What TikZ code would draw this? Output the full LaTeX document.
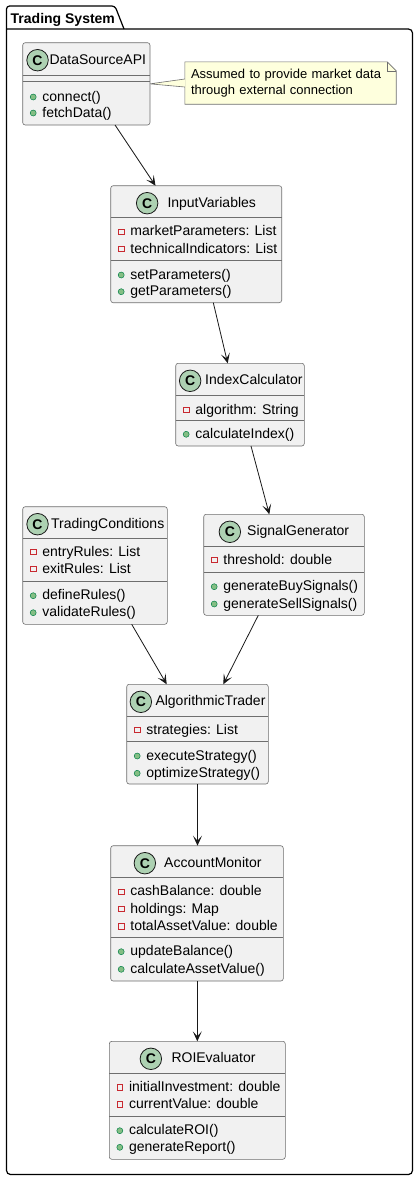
\documentclass[tikz,border=0pt]{standalone}
\usepackage{fontspec}
\setmainfont{Liberation Sans}
\usetikzlibrary{positioning,arrows.meta,backgrounds}

\definecolor{classfill}{HTML}{F1F1F1}
\definecolor{classedge}{HTML}{6E6E6E}
\definecolor{linkcol}{HTML}{181818}
\definecolor{iconfill}{HTML}{ADD1B2}
\definecolor{privred}{HTML}{C82930}
\definecolor{pubfill}{HTML}{84BE84}
\definecolor{pubedge}{HTML}{038048}
\definecolor{notefill}{HTML}{FEFFDD}

\tikzset{
  classbox/.style={draw=classedge, line width=0.6pt, fill=classfill, rounded corners=2.5pt, inner sep=0pt, outer sep=0pt},
  classline/.style={draw=classedge, line width=0.6pt},
  classname/.style={inner sep=0pt, anchor=west, font=\fontsize{14}{16}\selectfont, text height=10pt, text depth=2pt},
  classicon/.style={circle, draw=linkcol, line width=0.8pt, fill=iconfill, minimum size=21.5pt, inner sep=0pt, font=\fontsize{14}{16}\selectfont\bfseries},
  member/.style={inner sep=0pt, anchor=west, font=\fontsize{14}{16}\selectfont, text height=10pt, text depth=2pt},
  privmark/.style={draw=privred, line width=0.8pt, minimum size=5.5pt, inner sep=0pt},
  pubmark/.style={circle, draw=pubedge, line width=0.5pt, fill=pubfill, minimum size=6pt, inner sep=0pt},
  assoc/.style={-{Stealth[length=10pt,width=9pt,inset=5pt]}, draw=linkcol, line width=0.8pt},
  pkgline/.style={draw=black, line width=1.2pt},
  pkgname/.style={inner sep=0pt, anchor=west, font=\fontsize{14}{16}\selectfont\bfseries, text height=10pt, text depth=2pt},
  notetext/.style={inner xsep=6pt, inner ysep=0pt, text width=199pt, minimum height=42pt, align=left, font=\fontsize{13}{16.6}\selectfont},
  noteline/.style={draw=classedge, line width=0.6pt}
}

% class box: name, left, top, right, bottom, name x, icon gap, title
\newcommand{\umlclass}[8]{%
  \node[classbox, minimum width={#4pt-#2pt}, minimum height={#5pt-#3pt}] (#1) at ({(#2+#4)/2},{(#3+#5)/2}) {};
  \node[classname] (#1-name) at (#6,#3+17.5) {#8};
  \node[classicon, left=#7pt of #1-name] (#1-icon) {C};
}
\newcommand{\umlsep}[2]{\draw[classline] (#1.west |- 0,#2) -- (#1.east |- 0,#2);}
\newcommand{\umlattr}[4]{%
  \node[privmark, xshift=10.5pt] (#1-#2-mark) at (#1.west |- 0,#3) {};
  \node[member, xshift=19.5pt] (#1-#2) at (#1.west |- 0,#3) {#4};
}
\newcommand{\umlop}[4]{%
  \node[pubmark, xshift=10.5pt] (#1-#2-mark) at (#1.west |- 0,#3) {};
  \node[member, xshift=19.5pt] (#1-#2) at (#1.west |- 0,#3) {#4};
}

\begin{document}
\begin{tikzpicture}[x=1pt,y=-1pt]
  \useasboundingbox (0,0) rectangle (419,1181);

  % package frame
  \draw[pkgline, rounded corners=3pt] (6.5,29) -- (6.5,6) -- (115,6) -- (124,29);
  \draw[pkgline, rounded corners=4pt] (6.5,29) -- (6.5,1174.5) -- (412.5,1174.5) -- (412.5,29) -- (6.5,29);
  \node[pkgname] (pkg-name) at (10.5,19) {Trading System};

  \umlclass{dsapi}{22.7}{42.7}{150}{125}{49.3}{0.6}{DataSourceAPI}
  \umlsep{dsapi}{75} \umlsep{dsapi}{81}
  \umlop{dsapi}{o1}{97}{connect()}
  \umlop{dsapi}{o2}{113}{fetchData()}

  \umlclass{inputvars}{110.7}{185.7}{281.7}{302.7}{167.3}{9}{InputVariables}
  \umlsep{inputvars}{217.3} \umlsep{inputvars}{260}
  \umlattr{inputvars}{a1}{231.7}{marketParameters: List}
  \umlattr{inputvars}{a2}{249}{technicalIndicators: List}
  \umlop{inputvars}{o1}{275}{setParameters()}
  \umlop{inputvars}{o2}{291.7}{getParameters()}

  \umlclass{indexcalc}{175.7}{363.3}{304.3}{446}{205}{3.7}{IndexCalculator}
  \umlsep{indexcalc}{395.7} \umlsep{indexcalc}{420.7}
  \umlattr{indexcalc}{a1}{410}{algorithm: String}
  \umlop{indexcalc}{o1}{434.3}{calculateIndex()}

  \umlclass{tradecond}{22.7}{506.7}{167.3}{624.3}{51}{2.3}{TradingConditions}
  \umlsep{tradecond}{538.7} \umlsep{tradecond}{581.3}
  \umlattr{tradecond}{a1}{552}{entryRules: List}
  \umlattr{tradecond}{a2}{569}{exitRules: List}
  \umlop{tradecond}{o1}{595.7}{defineRules()}
  \umlop{tradecond}{o2}{612.7}{validateRules()}

  \umlclass{siggen}{203.7}{514.3}{364.3}{615.3}{247}{6}{SignalGenerator}
  \umlsep{siggen}{546.7} \umlsep{siggen}{572.3}
  \umlattr{siggen}{a1}{560}{threshold: double}
  \umlop{siggen}{o1}{586.7}{generateBuySignals()}
  \umlop{siggen}{o2}{604}{generateSellSignals()}

  \umlclass{algotrader}{126.7}{684.3}{268.3}{784}{155.3}{3.3}{AlgorithmicTrader}
  \umlsep{algotrader}{716.7} \umlsep{algotrader}{741}
  \umlattr{algotrader}{a1}{730}{strategies: List}
  \umlop{algotrader}{o1}{756}{executeStrategy()}
  \umlop{algotrader}{o2}{773.3}{optimizeStrategy()}

  \umlclass{accmon}{110.7}{845.7}{283.3}{981}{164}{8}{AccountMonitor}
  \umlsep{accmon}{877.3} \umlsep{accmon}{937.7}
  \umlattr{accmon}{a1}{891.7}{cashBalance: double}
  \umlattr{accmon}{a2}{909}{holdings: Map}
  \umlattr{accmon}{a3}{926.3}{totalAssetValue: double}
  \umlop{accmon}{o1}{951.7}{updateBalance()}
  \umlop{accmon}{o2}{969.3}{calculateAssetValue()}

  \umlclass{roieval}{109.3}{1041.3}{285.3}{1159.3}{171.3}{9.3}{ROIEvaluator}
  \umlsep{roieval}{1073.7} \umlsep{roieval}{1116}
  \umlattr{roieval}{a1}{1087.3}{initialInvestment: double}
  \umlattr{roieval}{a2}{1104.3}{currentValue: double}
  \umlop{roieval}{o1}{1130.7}{calculateROI()}
  \umlop{roieval}{o2}{1147.3}{generateReport()}

  % note
  \node[notetext] (note) at (290.5,83) {Assumed to provide market data\\through external connection};
  \begin{scope}[on background layer]
    \filldraw[noteline, fill=notefill] (note.north west) -- ([xshift=-9pt]note.north east)
      -- ([yshift=-9pt]note.north east) -- (note.south east) -- (note.south west) -- cycle;
    \draw[noteline] ([xshift=-9pt]note.north east) -- ([xshift=-9pt,yshift=-9pt]note.north east)
      -- ([yshift=-9pt]note.north east);
    \fill[notefill] ([yshift=4pt]note.west) -- (dsapi.east) -- ([yshift=-4pt]note.west) -- cycle;
    \draw[noteline] ([yshift=4pt]note.west) -- (dsapi.east) -- ([yshift=-4pt]note.west);
  \end{scope}

  % links
  \draw[assoc] ([xshift=28.7pt]dsapi.south) -- ([xshift=-40.7pt]inputvars.north);
  \draw[assoc] ([xshift=17.1pt]inputvars.south) -- ([xshift=-12.3pt]indexcalc.north);
  \draw[assoc] ([xshift=11pt]indexcalc.south) -- ([xshift=-14.7pt]siggen.north);
  \draw[assoc] ([xshift=36.7pt]tradecond.south) -- ([xshift=-30.8pt]algotrader.north);
  \draw[assoc] ([xshift=-25.7pt]siggen.south) -- ([xshift=25.8pt]algotrader.north);
  \draw[assoc] (algotrader.south) -- (algotrader.south |- accmon.north);
  \draw[assoc] (accmon.south -| roieval.north) -- (roieval.north);
\end{tikzpicture}
\end{document}
